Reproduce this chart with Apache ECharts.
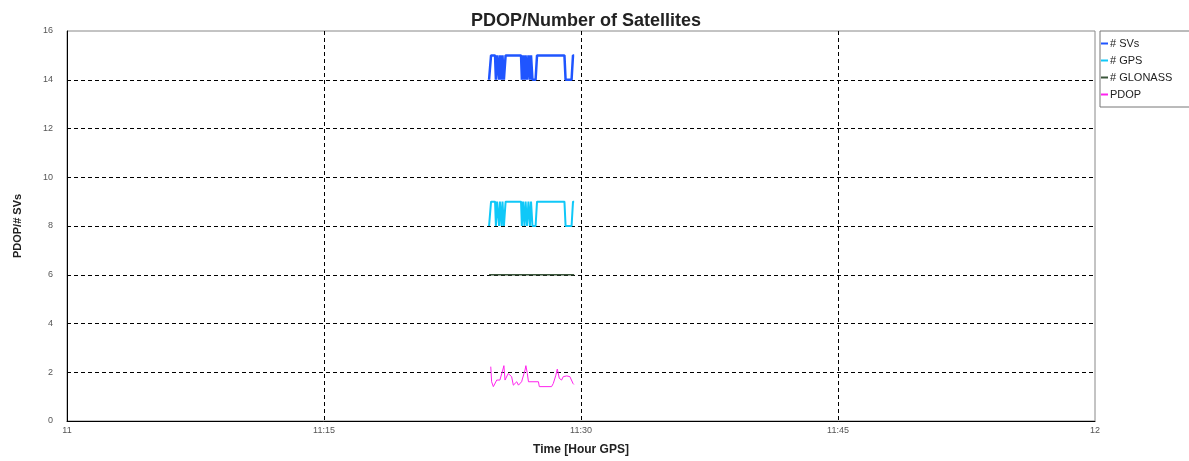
<!DOCTYPE html>
<html>
<head>
<meta charset="utf-8">
<script src="https://cdn.jsdelivr.net/npm/echarts@6/dist/echarts.min.js"></script>
<style>
html,body{margin:0;padding:0;background:#fff;}
#chart{width:1189px;height:461px;}
</style>
</head>
<body>
<div id="chart"></div>
<script>
// Time in seconds after 11:00 GPS
var xTickLabels = ['11', '11:15', '11:30', '11:45', '12'];
var seriesNames = ['# SVs', '# GPS', '# GLONASS', 'PDOP'];

var svTime = [1478,1485,1499,1502,1506,1509,1513,1516,1522,1525,1530,1536,1590,1593,1597,1602,1606,1611,1616,1621,1625,1630,1641,1646,1742,1746,1767,1772,1776];
var svValue = [14,15,15,14,15,15,14,15,14,15,14,15,15,14,15,14,15,14,15,14,15,14,14,15,15,14,14,15,15];

var gpsTime = [1478,1485,1499,1502,1506,1509,1513,1516,1522,1525,1530,1536,1590,1593,1597,1602,1606,1611,1616,1621,1625,1630,1641,1646,1742,1746,1767,1772,1776];
var gpsValue = [8,9,9,8,9,9,8,9,8,9,8,9,9,8,9,8,9,8,9,8,9,8,8,9,9,8,8,9,9];

var glonassTime = [1478,1550,1650,1776];
var glonassValue = [6,6,6,6];

var pdopTime = [1484,1487,1493,1499,1505,1510,1516,1522,1526,1530,1534,1540,1545,1551,1557,1563,1569,1575,1581,1586,1592,1598,1604,1607,1612,1616,1651,1654,1697,1703,1712,1717,1724,1732,1738,1750,1761,1767,1772,1775];
var pdopValue = [2.23,1.61,1.41,1.47,1.68,1.75,1.68,1.75,2.09,2.27,1.68,1.75,1.95,2.02,1.82,1.47,1.54,1.61,1.47,1.54,1.61,1.68,2.09,2.27,1.95,1.61,1.61,1.41,1.41,1.54,1.88,2.13,1.75,1.68,1.82,1.85,1.82,1.75,1.54,1.50];

function pairs(t, v) { return t.map(function (x, i) { return [x, v[i]]; }); }

var chart = echarts.init(document.getElementById('chart'), null, {renderer: 'canvas'});
var dash = [4, 3];
chart.setOption({
  animation: false,
  backgroundColor: '#fff',
  textStyle: {fontFamily: 'Liberation Sans, Arial, sans-serif'},
  title: {
    text: 'PDOP/Number of Satellites',
    left: 581, textAlign: 'center', top: 7,
    textStyle: {fontSize: 18, fontWeight: 'bold', color: '#222', fontFamily: 'Liberation Sans, Arial, sans-serif'}
  },
  legend: {
    orient: 'vertical',
    left: 1100, top: 31,
    width: 100,
    padding: [7, 20, 7, 1],
    borderColor: '#777', borderWidth: 1,
    itemWidth: 7, itemHeight: 2, itemGap: 6,
    icon: 'rect',
    textStyle: {fontSize: 11, color: '#222', padding: [0, 0, 0, -3]},
    data: seriesNames
  },
  grid: {left: 67, right: 94, top: 31, bottom: 40, show: true, borderColor: '#888', borderWidth: 1},
  xAxis: {
    type: 'value', min: 0, max: 3600, interval: 900,
    name: 'Time [Hour GPS]', nameLocation: 'middle', nameGap: 23,
    nameTextStyle: {fontSize: 12, fontWeight: 'bold', color: '#222'},
    axisLine: {lineStyle: {color: '#000', width: 1}},
    axisTick: {show: false},
    axisLabel: {fontSize: 9, color: '#555', margin: 5, formatter: function (v) { return xTickLabels[Math.round(v / 900)]; }},
    splitLine: {show: true, showMinLine: false, showMaxLine: false, lineStyle: {color: '#000', type: dash, width: 1}}
  },
  yAxis: {
    type: 'value', min: 0, max: 16, interval: 2,
    name: 'PDOP/# SVs', nameLocation: 'middle', nameGap: 44, nameRotate: 90,
    nameTextStyle: {fontSize: 11, fontWeight: 'bold', color: '#222'},
    axisLine: {show: true, lineStyle: {color: '#000', width: 1}},
    axisTick: {show: false},
    axisLabel: {fontSize: 9, color: '#555', margin: 14},
    splitLine: {show: true, showMinLine: false, showMaxLine: false, lineStyle: {color: '#000', type: dash, width: 1}}
  },
  series: [
    {name: seriesNames[0], type: 'line', data: pairs(svTime, svValue), showSymbol: false, symbol: 'none', color: '#1f55ff', lineStyle: {width: 2.5, color: '#1f55ff'}, z: 5},
    {name: seriesNames[1], type: 'line', data: pairs(gpsTime, gpsValue), showSymbol: false, symbol: 'none', color: '#10c8f8', lineStyle: {width: 2, color: '#10c8f8'}, z: 4},
    {name: seriesNames[2], type: 'line', data: pairs(glonassTime, glonassValue), showSymbol: false, symbol: 'none', color: '#3a553a', lineStyle: {width: 1.5, color: '#3a553a'}, z: 3},
    {name: seriesNames[3], type: 'line', data: pairs(pdopTime, pdopValue), showSymbol: false, symbol: 'none', color: '#ff22ee', lineStyle: {width: 1, color: '#ff22ee'}, z: 6}
  ]
});
</script>
</body>
</html>
